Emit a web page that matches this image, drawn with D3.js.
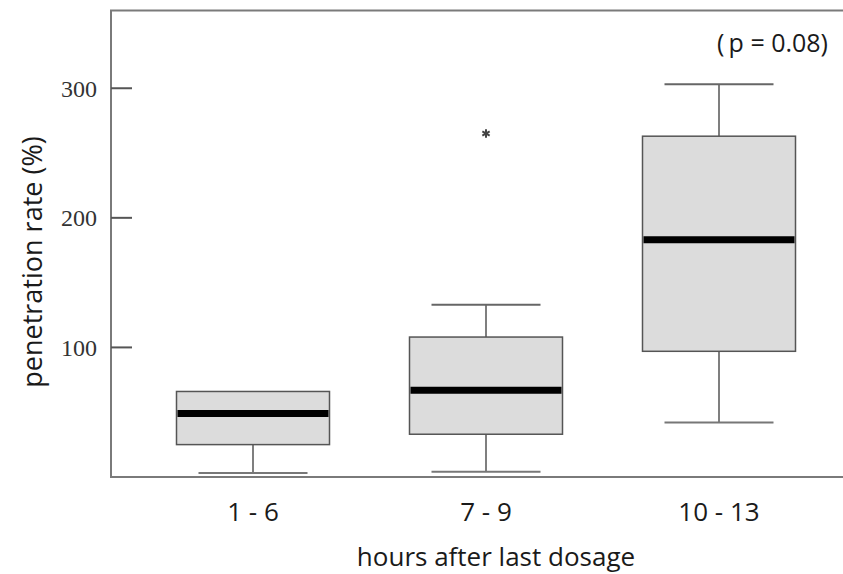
<!DOCTYPE html>
<html>
<head>
<meta charset="utf-8">
<script src="https://cdn.jsdelivr.net/npm/d3@7"></script>
<style>
  body { margin: 0; background: #fff; }
  .frame { fill: none; stroke: #7a7a7a; stroke-width: 2; }
  .tick-label { font-family: "Liberation Serif", serif; font-size: 24px; fill: #333; }
  .cat-label, .axis-title, .note { font-family: "Open Sans", sans-serif; fill: #1a1a1a; }
</style>
</head>
<body>
<svg width="843" height="574"></svg>
<script>
var categories = ['1 - 6', '7 - 9', '10 - 13'];
var mins    = [3, 4, 42];
var q1s     = [25, 33, 97];
var medians = [49, 67, 183];
var q3s     = [66, 108, 263];
var maxs    = [66, 133, 303];
var outliers = [{cat: '7 - 9', value: 265}];
var yTicks = [100, 200, 300];

var svg = d3.select('svg');
var plotLeft = 111, plotTop = 10.5, plotBottom = 477, plotRight = 850;

var y = d3.scaleLinear().domain([0, 360]).range([plotBottom, plotTop]);
var x = d3.scalePoint().domain(categories).range([253, 719]);

var boxW = 153, capW = 109;

var stats = categories.map((c, i) => ({
  cat: c, min: mins[i], q1: q1s[i], med: medians[i], q3: q3s[i], max: maxs[i]
}));

// frame (open to the right, cropped)
svg.append('path')
  .attr('class', 'frame')
  .attr('d', `M${plotRight},${plotTop}H${plotLeft}V${plotBottom}H${plotRight}`);

// y ticks pointing inward
svg.selectAll('.ytick')
  .data(yTicks)
  .enter()
  .append('line')
    .attr('x1', plotLeft).attr('x2', plotLeft + 21)
    .attr('y1', d => y(d)).attr('y2', d => y(d))
    .attr('stroke', '#555').attr('stroke-width', 2);

svg.selectAll('.tick-label')
  .data(yTicks)
  .enter()
  .append('text')
    .attr('class', 'tick-label')
    .attr('x', 97)
    .attr('y', d => y(d))
    .attr('dy', '0.35em')
    .attr('text-anchor', 'end')
    .text(d => d);

var g = svg.selectAll('.box')
  .data(stats)
  .enter()
  .append('g');

// whiskers
g.filter(d => d.max > d.q3).append('line')
  .attr('x1', d => x(d.cat)).attr('x2', d => x(d.cat))
  .attr('y1', d => y(d.q3)).attr('y2', d => y(d.max))
  .attr('stroke', '#555').attr('stroke-width', 1.5);
g.filter(d => d.max > d.q3).append('line')
  .attr('x1', d => x(d.cat) - capW / 2).attr('x2', d => x(d.cat) + capW / 2)
  .attr('y1', d => y(d.max)).attr('y2', d => y(d.max))
  .attr('stroke', '#666').attr('stroke-width', 2);
g.append('line')
  .attr('x1', d => x(d.cat)).attr('x2', d => x(d.cat))
  .attr('y1', d => y(d.q1)).attr('y2', d => y(d.min))
  .attr('stroke', '#555').attr('stroke-width', 1.5);
g.append('line')
  .attr('x1', d => x(d.cat) - capW / 2).attr('x2', d => x(d.cat) + capW / 2)
  .attr('y1', d => y(d.min)).attr('y2', d => y(d.min))
  .attr('stroke', '#777').attr('stroke-width', 2);

// boxes
g.append('rect')
  .attr('x', d => x(d.cat) - boxW / 2)
  .attr('width', boxW)
  .attr('y', d => y(d.q3))
  .attr('height', d => y(d.q1) - y(d.q3))
  .attr('fill', '#dcdcdc')
  .attr('stroke', '#555')
  .attr('stroke-width', 1.5);

g.append('line')
  .attr('x1', d => x(d.cat) - boxW / 2 + 1).attr('x2', d => x(d.cat) + boxW / 2 - 1)
  .attr('y1', d => y(d.med)).attr('y2', d => y(d.med))
  .attr('stroke', '#000').attr('stroke-width', 7);

// outliers
svg.selectAll('.outlier')
  .data(outliers)
  .enter()
  .append('path')
    .attr('d', d3.symbol(d3.symbolAsterisk, 50))
    .attr('transform', d => `translate(${x(d.cat)},${y(d.value)})`)
    .attr('stroke', '#444')
    .attr('stroke-width', 2);

// category labels
svg.selectAll('.cat-label')
  .data(categories)
  .enter()
  .append('text')
    .attr('class', 'cat-label')
    .attr('x', d => x(d))
    .attr('y', 521)
    .attr('text-anchor', 'middle')
    .style('font-size', '26px')
    .style('font-weight', 500)
    .text(d => d);

svg.append('text')
  .attr('class', 'axis-title')
  .attr('x', 496)
  .attr('y', 566)
  .attr('text-anchor', 'middle')
  .style('font-size', '26px')
  .style('font-weight', 500)
  .text('hours after last dosage');

svg.append('text')
  .attr('class', 'axis-title')
  .attr('transform', 'translate(42,262) rotate(-90)')
  .attr('text-anchor', 'middle')
  .style('font-size', '27px')
  .style('font-weight', 500)
  .text('penetration rate (%)');

svg.append('text')
  .attr('class', 'note')
  .attr('x', 828)
  .attr('y', 52)
  .attr('text-anchor', 'end')
  .style('font-size', '25px')
  .style('font-weight', 500)
  .text('(\u2009p = 0.08)');
</script>
</body>
</html>
